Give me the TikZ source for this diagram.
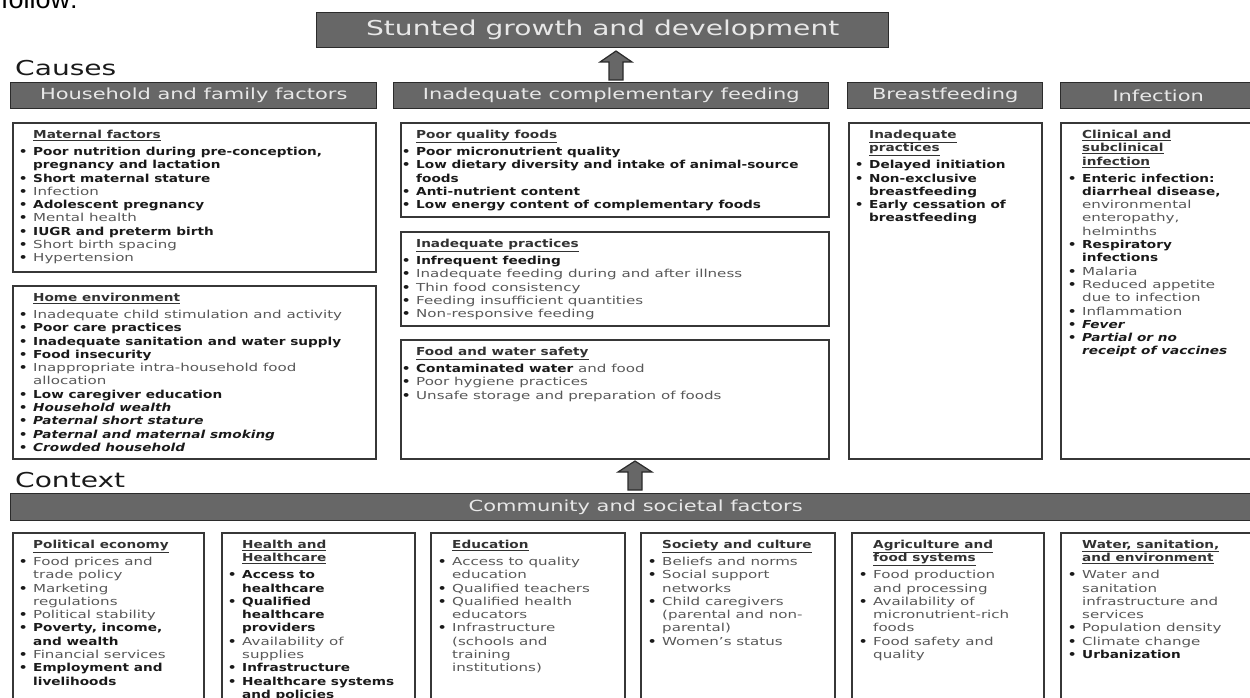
\documentclass[tikz,border=0pt]{standalone}
\usepackage{fontspec}
\setmainfont{DejaVu Sans}[FakeStretch=1.37]
\newfontfamily\heavy{DejaVu Sans Bold}[FakeStretch=1.24,ItalicFont={DejaVu Sans Bold Oblique}]
\newfontfamily\pagefont{Liberation Sans}
\usetikzlibrary{positioning}
\definecolor{bargray}{RGB}{103,103,103}
\definecolor{barline}{RGB}{43,43,43}
\definecolor{bartext}{RGB}{232,232,232}
\definecolor{boxline}{RGB}{55,55,55}
\definecolor{softtext}{RGB}{88,88,88}
\definecolor{hardtext}{RGB}{26,26,26}
\definecolor{headtext}{RGB}{50,50,50}
\newlength{\bulw}
\setlength{\bulw}{21pt}
\newcommand{\bodysize}{\fontsize{11}{13.3}\selectfont}
\newcommand{\hardtx}[1]{{\heavy\color{hardtext}#1}}
\newcommand{\hardit}[1]{{\heavy\itshape\color{hardtext}#1}}
\newcommand{\softtx}[1]{{\color{softtext}#1}}
\newcommand{\boxhead}[1]{\hspace*{\bulw}{\color{headtext}\underline{\heavy #1}}}
\newcommand{\bul}{\makebox[\bulw][l]{\hspace*{\dimexpr\bulw-10pt\relax}\makebox[0pt][c]{\color{hardtext}\heavy\textbullet}}}
\newcommand{\cnt}{\hspace*{\bulw}}
\tikzset{
  bar/.style={draw=barline,line width=1.4pt,fill=bargray,text=bartext,inner sep=0pt,
    anchor=north west,minimum height=26pt,font=\fontsize{15.3}{18}\selectfont},
  frame/.style={draw=boxline,line width=1.7pt,inner sep=0pt,anchor=north west},
  list/.style={anchor=north west,inner sep=0pt,align=left,font=\bodysize},
  biglabel/.style={anchor=base west,inner sep=0pt,text=hardtext,font=\fontsize{20.5}{24}\selectfont},
  pics/upblock/.style={code={
    \draw[draw=barline,fill=bargray,line width=1.2pt,line join=miter]
      (-7,0) -- (-7,-18) -- (-#1,-18) -- (0,-29) -- (#1,-18) -- (7,-18) -- (7,0) -- cycle;
  }},
  pics/upblock/.default=16
}

\begin{document}
\begin{tikzpicture}[x=1pt,y=-1pt]
  \useasboundingbox (0,0) rectangle (1250,698);
  \clip (0,0) rectangle (1250,698);
  \node[anchor=base west,inner sep=0pt,font=\pagefont\fontsize{27}{30}\selectfont] (follow) at (1,9) {follow:};

  % outcome and causes
  \node[bar,minimum width=572pt,minimum height=35pt,font=\fontsize{20.5}{24}\selectfont] (stunt) at (316,12) {Stunted growth and development};
  \coordinate (upA) at (616,80);
  \pic at (upA) {upblock};
  \node[biglabel] (causes) at (15,76) {Causes};

  \node[bar,minimum width=366pt] (hh) at (10,82) {Household and family factors};
  \node[bar,minimum width=435pt] (icf) at (393,82) {Inadequate complementary feeding};
  \node[bar,minimum width=195pt] (bf) at (847,82) {Breastfeeding};
  \node[bar,minimum width=195pt] (inf) at (1060,82) {Infection};

  \node[frame,minimum width=363pt,minimum height=149pt] (mat) at (12,122) {};
  \node[frame,minimum width=363pt,minimum height=173pt] (home) at (12,285) {};
  \node[frame,minimum width=428pt,minimum height=94pt] (pqf) at (400,122) {};
  \node[frame,minimum width=428pt,minimum height=94pt] (ipr) at (400,231) {};
  \node[frame,minimum width=428pt,minimum height=119pt] (fws) at (400,339) {};
  \node[frame,minimum width=193pt,minimum height=336pt] (bfb) at (848,122) {};
  \node[frame,minimum width=195pt,minimum height=336pt] (infb) at (1060,122) {};

  \node[list] (matT) at (12,130) {\boxhead{Maternal factors}\\[3.6pt]
    \bul\hardtx{Poor nutrition during pre-conception,}\\
    \cnt\hardtx{pregnancy and lactation}\\
    \bul\hardtx{Short maternal stature}\\
    \bul\softtx{Infection}\\
    \bul\hardtx{Adolescent pregnancy}\\
    \bul\softtx{Mental health}\\
    \bul\hardtx{IUGR and preterm birth}\\
    \bul\softtx{Short birth spacing}\\
    \bul\softtx{Hypertension}};
  \node[list] (homeT) at (12,293) {\boxhead{Home environment}\\[3.6pt]
    \bul\softtx{Inadequate child stimulation and activity}\\
    \bul\hardtx{Poor care practices}\\
    \bul\hardtx{Inadequate sanitation and water supply}\\
    \bul\hardtx{Food insecurity}\\
    \bul\softtx{Inappropriate intra-household food}\\
    \cnt\softtx{allocation}\\
    \bul\hardtx{Low caregiver education}\\
    \bul\hardit{Household wealth}\\
    \bul\hardit{Paternal short stature}\\
    \bul\hardit{Paternal and maternal smoking}\\
    \bul\hardit{Crowded household}};
  \node[list] (pqfT) at (395,130) {\boxhead{Poor quality foods}\\[3.6pt]
    \bul\hardtx{Poor micronutrient quality}\\
    \bul\hardtx{Low dietary diversity and intake of animal-source}\\
    \cnt\hardtx{foods}\\
    \bul\hardtx{Anti-nutrient content}\\
    \bul\hardtx{Low energy content of complementary foods}};
  \node[list] (iprT) at (395,239) {\boxhead{Inadequate practices}\\[3.6pt]
    \bul\hardtx{Infrequent feeding}\\
    \bul\softtx{Inadequate feeding during and after illness}\\
    \bul\softtx{Thin food consistency}\\
    \bul\softtx{Feeding insufficient quantities}\\
    \bul\softtx{Non-responsive feeding}};
  \node[list] (fwsT) at (395,347) {\boxhead{Food and water safety}\\[3.6pt]
    \bul\hardtx{Contaminated water}\ \softtx{and food}\\
    \bul\softtx{Poor hygiene practices}\\
    \bul\softtx{Unsafe storage and preparation of foods}};
  \node[list] (bfT) at (848,130) {\boxhead{Inadequate}\\
    \boxhead{practices}\\[3.6pt]
    \bul\hardtx{Delayed initiation}\\
    \bul\hardtx{Non-exclusive}\\
    \cnt\hardtx{breastfeeding}\\
    \bul\hardtx{Early cessation of}\\
    \cnt\hardtx{breastfeeding}};
  \node[list] (infT) at (1061,130) {\boxhead{Clinical and}\\
    \boxhead{subclinical}\\
    \boxhead{infection}\\[3.6pt]
    \bul\hardtx{Enteric infection:}\\
    \cnt\hardtx{diarrheal disease,}\\
    \cnt\softtx{environmental}\\
    \cnt\softtx{enteropathy,}\\
    \cnt\softtx{helminths}\\
    \bul\hardtx{Respiratory}\\
    \cnt\hardtx{infections}\\
    \bul\softtx{Malaria}\\
    \bul\softtx{Reduced appetite}\\
    \cnt\softtx{due to infection}\\
    \bul\softtx{Inflammation}\\
    \bul\hardit{Fever}\\
    \bul\hardit{Partial or no}\\
    \cnt\hardit{receipt of vaccines}};

  % context
  \coordinate (upB) at (635,490);
  \pic at (upB) {upblock=17};
  \node[biglabel] (context) at (15,487) {Context};
  \node[bar,minimum width=1250pt,minimum height=27pt] (comm) at (10,493) {Community and societal factors};

  \node[frame,minimum width=191pt,minimum height=175pt] (pol) at (12,532) {};
  \node[frame,minimum width=193pt,minimum height=175pt] (hlth) at (221,532) {};
  \node[frame,minimum width=194pt,minimum height=175pt] (edu) at (430,532) {};
  \node[frame,minimum width=194pt,minimum height=175pt] (soc) at (640,532) {};
  \node[frame,minimum width=192pt,minimum height=175pt] (agr) at (851,532) {};
  \node[frame,minimum width=195pt,minimum height=175pt] (wat) at (1060,532) {};

  \node[list] (polT) at (12,540) {\boxhead{Political economy}\\[3.6pt]
    \bul\softtx{Food prices and}\\
    \cnt\softtx{trade policy}\\
    \bul\softtx{Marketing}\\
    \cnt\softtx{regulations}\\
    \bul\softtx{Political stability}\\
    \bul\hardtx{Poverty, income,}\\
    \cnt\hardtx{and wealth}\\
    \bul\softtx{Financial services}\\
    \bul\hardtx{Employment and}\\
    \cnt\hardtx{livelihoods}};
  \node[list] (hlthT) at (221,540) {\boxhead{Health and}\\
    \boxhead{Healthcare}\\[3.6pt]
    \bul\hardtx{Access to}\\
    \cnt\hardtx{healthcare}\\
    \bul\hardtx{Qualified}\\
    \cnt\hardtx{healthcare}\\
    \cnt\hardtx{providers}\\
    \bul\softtx{Availability of}\\
    \cnt\softtx{supplies}\\
    \bul\hardtx{Infrastructure}\\
    \bul\hardtx{Healthcare systems}\\
    \cnt\hardtx{and policies}};
  \node[list] (eduT) at (431,540) {\boxhead{Education}\\[3.6pt]
    \bul\softtx{Access to quality}\\
    \cnt\softtx{education}\\
    \bul\softtx{Qualified teachers}\\
    \bul\softtx{Qualified health}\\
    \cnt\softtx{educators}\\
    \bul\softtx{Infrastructure}\\
    \cnt\softtx{(schools and}\\
    \cnt\softtx{training}\\
    \cnt\softtx{institutions)}};
  \node[list] (socT) at (641,540) {\boxhead{Society and culture}\\[3.6pt]
    \bul\softtx{Beliefs and norms}\\
    \bul\softtx{Social support}\\
    \cnt\softtx{networks}\\
    \bul\softtx{Child caregivers}\\
    \cnt\softtx{(parental and non-}\\
    \cnt\softtx{parental)}\\
    \bul\softtx{Women’s status}};
  \node[list] (agrT) at (852,540) {\boxhead{Agriculture and}\\
    \boxhead{food systems}\\[3.6pt]
    \bul\softtx{Food production}\\
    \cnt\softtx{and processing}\\
    \bul\softtx{Availability of}\\
    \cnt\softtx{micronutrient-rich}\\
    \cnt\softtx{foods}\\
    \bul\softtx{Food safety and}\\
    \cnt\softtx{quality}};
  \node[list] (watT) at (1061,540) {\boxhead{Water, sanitation,}\\
    \boxhead{and environment}\\[3.6pt]
    \bul\softtx{Water and}\\
    \cnt\softtx{sanitation}\\
    \cnt\softtx{infrastructure and}\\
    \cnt\softtx{services}\\
    \bul\softtx{Population density}\\
    \bul\softtx{Climate change}\\
    \bul\hardtx{Urbanization}};
\end{tikzpicture}
\end{document}
